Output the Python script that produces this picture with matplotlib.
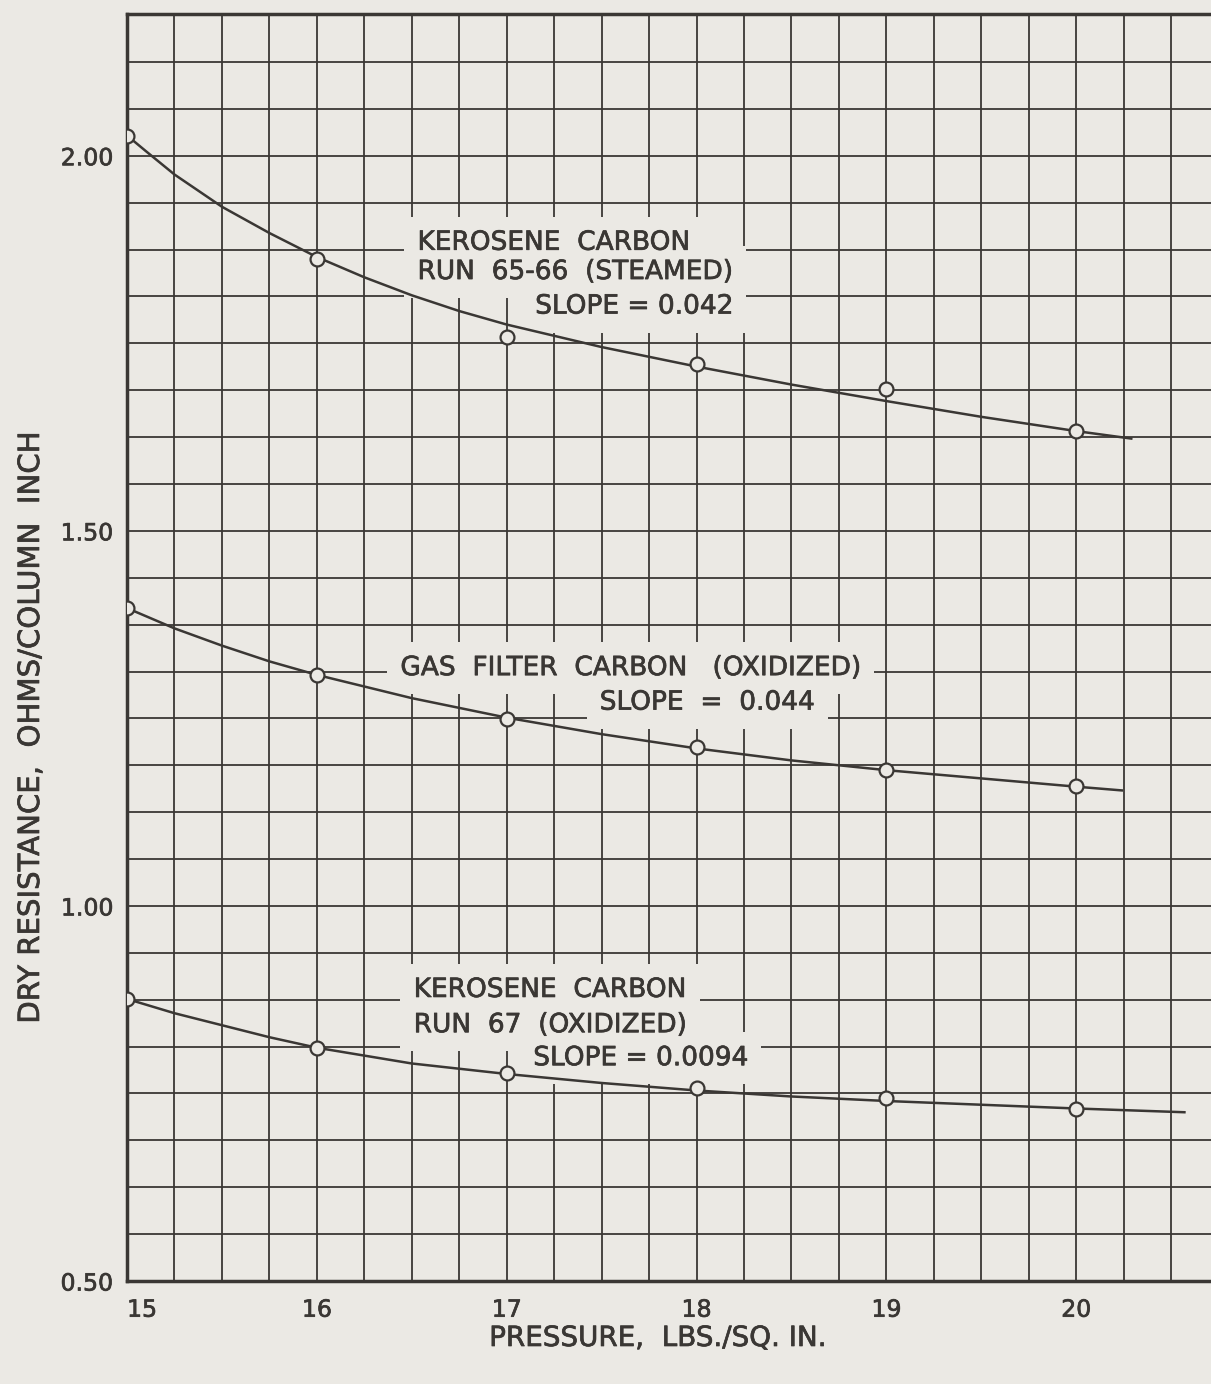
import matplotlib.pyplot as plt
import matplotlib.patheffects as pe
from matplotlib.ticker import MultipleLocator, FixedLocator

# measured points, lbs/sq in vs ohms/column inch
pressure = [15, 16, 17, 18, 19, 20]
kero_steamed = [2.027, 1.863, 1.759, 1.723, 1.689, 1.633]
gas_oxidized = [1.397, 1.308, 1.249, 1.212, 1.181, 1.160]
kero_oxidized = [0.876, 0.811, 0.777, 0.757, 0.744, 0.729]

# hand-faired curves through each set
kero_steamed_cx = [15.0, 15.1, 15.25, 15.5, 15.75, 16.0, 16.25, 16.5, 16.75, 17.0, 17.5, 18.0,
                   18.5, 19.0, 19.5, 20.0, 20.29]
kero_steamed_cy = [2.027, 2.006, 1.975, 1.932, 1.897, 1.865, 1.838, 1.814, 1.793, 1.775, 1.745,
                   1.719, 1.695, 1.673, 1.652, 1.633, 1.623]
gas_oxidized_cx = [15.0, 15.25, 15.5, 15.75, 16.0, 16.5, 17.0, 17.5, 18.0, 18.5, 19.0, 19.5, 20.0, 20.24]
gas_oxidized_cy = [1.397, 1.370, 1.347, 1.326, 1.308, 1.277, 1.251, 1.229, 1.210, 1.194, 1.181,
                   1.170, 1.159, 1.154]
kero_oxidized_cx = [15.0, 15.25, 15.5, 15.75, 16.0, 16.5, 17.0, 17.5, 18.0, 18.5, 19.0, 19.5, 20.0, 20.57]
kero_oxidized_cy = [0.876, 0.857, 0.841, 0.825, 0.811, 0.790, 0.776, 0.764, 0.754, 0.746, 0.740,
                    0.735, 0.730, 0.725]

x_ticks = [15, 16, 17, 18, 19, 20]
x_labels = ['15', '16', '17', '18', '19', '20']
y_ticks = [0.5, 1.0, 1.5, 2.0]
y_labels = ['0.50', '1.00', '1.50', '2.00']

paper = '#ebe9e4'
ink = '#3a3734'
heavy = [pe.withStroke(linewidth=0.5, foreground=ink)]

plt.rcParams['font.family'] = 'DejaVu Sans'

fig = plt.figure(figsize=(12.11, 13.84), dpi=100, facecolor=paper)
ax = fig.add_axes([0.1049, 0.0744, 0.8951, 0.9155], facecolor=paper)

for cx, cy, px, py in [(kero_steamed_cx, kero_steamed_cy, pressure, kero_steamed),
                       (gas_oxidized_cx, gas_oxidized_cy, pressure, gas_oxidized),
                       (kero_oxidized_cx, kero_oxidized_cy, pressure, kero_oxidized)]:
    ax.plot(cx, cy, color=ink, lw=1.8, zorder=4)
    ax.plot(px, py, 'o', ms=10, mfc=paper, mec=ink, mew=1.6, zorder=5)

ax.set_xlim(15, 20.71)
ax.set_ylim(0.5, 2.189)

ax.xaxis.set_major_locator(FixedLocator(x_ticks))
ax.set_xticklabels(x_labels)
ax.xaxis.set_minor_locator(MultipleLocator(0.25))
ax.yaxis.set_major_locator(FixedLocator(y_ticks))
ax.set_yticklabels(y_labels)
ax.yaxis.set_minor_locator(MultipleLocator(0.0625))

ax.set_axisbelow(True)
ax.grid(True, which='both', color=ink, lw=1.3)
ax.tick_params(which='both', length=0, labelsize=17, labelcolor=ink)
ax.tick_params(axis='x', pad=12)
ax.tick_params(axis='y', pad=10)
ax.get_xticklabels()[0].set_ha('left')
for lab in ax.get_xticklabels() + ax.get_yticklabels():
    lab.set_path_effects(heavy)

for side in ['left', 'bottom', 'top']:
    ax.spines[side].set_linewidth(2.5)
    ax.spines[side].set_color(ink)
ax.spines['right'].set_visible(False)

# curve labels: blank paper patches over the grid first, lettering on top
box = dict(boxstyle='square,pad=0.5', fc=paper, ec='none')
notes = [
    (16.53, 1.884, 'KEROSENE  CARBON'),
    (16.53, 1.845, 'RUN  65-66  (STEAMED)'),
    (17.15, 1.799, 'SLOPE = 0.042'),
    (16.44, 1.317, 'GAS  FILTER  CARBON   (OXIDIZED)'),
    (17.49, 1.271, 'SLOPE  =  0.044'),
    (16.51, 0.888, 'KEROSENE  CARBON'),
    (16.51, 0.841, 'RUN  67  (OXIDIZED)'),
    (17.14, 0.797, 'SLOPE = 0.0094'),
]
for x, y, s in notes:
    ax.text(x, y, s, fontsize=19, color='none', ha='left', va='center', bbox=box, zorder=2.8)
    ax.text(x, y, s, fontsize=19, color=ink, ha='left', va='center', zorder=3,
            path_effects=heavy)

fig.text(658 / 1211, 1 - 1338 / 1384, 'PRESSURE,  LBS./SQ. IN.', fontsize=20, color=ink,
         ha='center', va='center', path_effects=heavy)
fig.text(31 / 1211, 1 - 728 / 1384, 'DRY RESISTANCE,  OHMS/COLUMN  INCH', fontsize=21,
         color=ink, ha='center', va='center', rotation=90, path_effects=heavy)

fig.savefig('out.png', dpi=100, facecolor=paper)
